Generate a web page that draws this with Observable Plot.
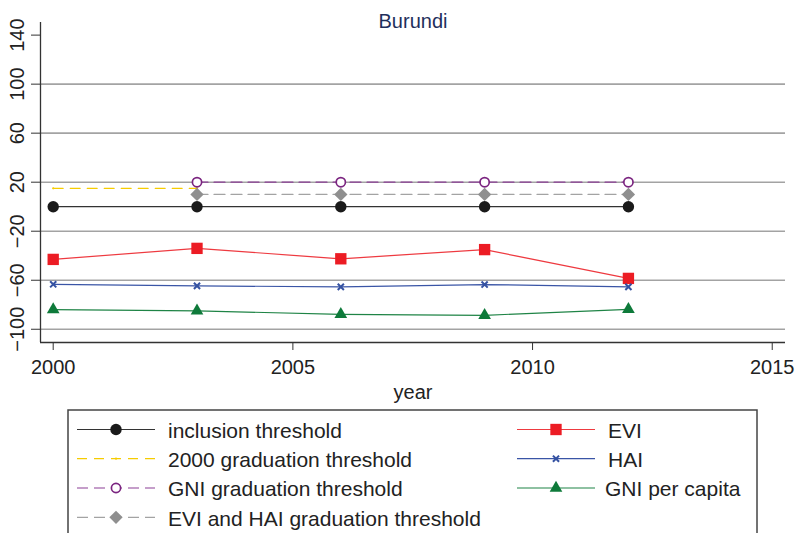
<!DOCTYPE html>
<html><head><meta charset="utf-8">
<script src="https://cdn.jsdelivr.net/npm/d3@7"></script>
<script src="https://cdn.jsdelivr.net/npm/@observablehq/plot@0.6"></script>
<style>
body{margin:0;background:#fff;}
#wrap{position:relative;width:795px;height:533px;overflow:hidden;font-family:"Liberation Sans",Arial,sans-serif;background:#fff;}
#wrap svg{display:block;}
#legend{position:absolute;left:0;top:400px;}
</style></head><body><div id="wrap"></div>
<script>
// ---- data ----
const title = "Burundi";
const xLabel = "year";
const years = [2000, 2003, 2006, 2009, 2012];
const thresholdYears = [2003, 2006, 2009, 2012];
const grad2000Years = [2000, 2003];
const inclusionThreshold = [0, 0, 0, 0, 0];
const grad2000Threshold = [15, 15];
const gniGradThreshold = [20, 20, 20, 20];
const eviHaiGradThreshold = [10, 10, 10, 10];
const evi = [-43, -34, -42.5, -35, -58.5];
const hai = [-63.3, -64.6, -65.4, -63.5, -65.4];
const gniPerCapita = [-83.9, -85, -87.8, -88.6, -83.7];
const yTicks = [-100, -60, -20, 20, 60, 100, 140];
const yGrid = [-100, -60, -20, 20, 60, 100];
const xTicks = [2000, 2005, 2010, 2015];
const legendLabels = ["inclusion threshold", "2000 graduation threshold", "GNI graduation threshold",
  "EVI and HAI graduation threshold", "EVI", "HAI", "GNI per capita"];

// ---- styles ----
const series = [
  {x: years, y: inclusionThreshold, stroke: "#333333", dash: null, symbol: "circle", r: 5.7, fill: "#1a1a1a", mstroke: "none", msw: 0},
  {x: grad2000Years, y: grad2000Threshold, stroke: "#f6cc00", dash: "10,7", symbol: "circle", r: 1.1, fill: "#f6cc00", mstroke: "none", msw: 0},
  {x: thresholdYears, y: gniGradThreshold, stroke: "#8b3f95", dash: "11,6", symbol: "circle", r: 4.6, fill: "white", mstroke: "#7b2580", msw: 1.7},
  {x: thresholdYears, y: eviHaiGradThreshold, stroke: "#a3a3a3", dash: "11,6", symbol: "diamond2", r: 6, fill: "#8f8f8f", mstroke: "none", msw: 0},
  {x: years, y: evi, stroke: "#ee3a40", dash: null, symbol: "square", r: 6.4, fill: "#ec1c24", mstroke: "none", msw: 0},
  {x: years, y: hai, stroke: "#3a55a6", dash: null, symbol: "times", r: 2.9, fill: "none", mstroke: "#3552a2", msw: 2},
  {x: years, y: gniPerCapita, stroke: "#1f8446", dash: null, symbol: "triangle", r: 4.7, fill: "#0e7a3a", mstroke: "none", msw: 0}
];
series.forEach((s, i) => { s.name = legendLabels[i]; s.rows = s.x.map((v, j) => ({year: v, value: s.y[j]})); });

const xDomain = [1999.735, 2015.277];
const yDomain = [-110.8, 150.3];
const fmt = d => d < 0 ? "\u2212" + Math.abs(d) : String(d);

const marks = [
  Plot.ruleY(yGrid, {stroke: "#a3a3a3", strokeWidth: 1.6}),
  Plot.ruleX([xDomain[0]], {stroke: "#333", strokeWidth: 1.3}),
  Plot.ruleY([yDomain[0]], {stroke: "#333", strokeWidth: 1.3}),
  Plot.axisY({ticks: yTicks, tickSize: 9, tickPadding: 7.5, tickRotate: -90, tickFormat: fmt, fontSize: 20, stroke: "#333", label: null}),
  Plot.axisX({ticks: xTicks, tickSize: 8, tickPadding: 9, tickFormat: d => String(d), fontSize: 20, stroke: "#333", label: null}),
  Plot.text([xLabel], {text: d => d, frameAnchor: "bottom", dy: 56, lineAnchor: "bottom", fontSize: 20, fill: "#222"}),
  Plot.text([title], {text: d => d, frameAnchor: "top", dy: 5, lineAnchor: "bottom", fontSize: 20, fill: "#1f2f5c"})
];
for (const s of series) {
  marks.push(Plot.line(s.rows, {x: "year", y: "value", stroke: s.stroke, strokeWidth: 1.2, strokeDasharray: s.dash}));
}
for (const s of series) {
  marks.push(Plot.dot(s.rows, {x: "year", y: "value", symbol: s.symbol, r: s.r, fill: s.fill, stroke: s.mstroke, strokeWidth: s.msw}));
}

const chart = Plot.plot({
  width: 795, height: 400,
  marginLeft: 40, marginRight: 10, marginTop: 22, marginBottom: 58,
  x: {type: "linear", domain: xDomain},
  y: {type: "linear", domain: yDomain},
  style: {fontFamily: '"Liberation Sans", Arial, sans-serif', fontSize: "20px", color: "#222", background: "white", overflow: "visible"},
  marks
});
const wrap = document.getElementById("wrap");
wrap.appendChild(chart);

// ---- legend ----
const symMap = {circle: d3.symbolCircle, diamond2: d3.symbolDiamond2, square: d3.symbolSquare, times: d3.symbolTimes, triangle: d3.symbolTriangle};
const lg = d3.select(wrap).append("svg").attr("id", "legend").attr("width", 795).attr("height", 133);
lg.append("rect").attr("x", 68).attr("y", 10).attr("width", 689).attr("height", 200)
  .attr("fill", "white").attr("stroke", "#444").attr("stroke-width", 1.5);
const rowY = [29.5, 58.7, 88, 117.3];
series.forEach((s, i) => {
  const col = i < 4 ? 0 : 1;
  const row = i < 4 ? i : i - 4;
  const x0 = col ? 517 : 77, x1 = col ? 595 : 155, xm = col ? 556 : 116;
  const tx = col ? (i === 6 ? 605 : 608) : 168;
  const y = rowY[row];
  const g = lg.append("g");
  g.append("line").attr("x1", x0).attr("x2", x1).attr("y1", y).attr("y2", y)
    .attr("stroke", s.stroke).attr("stroke-width", 1.2).attr("stroke-dasharray", s.dash);
  g.append("path").attr("transform", `translate(${xm},${y})`)
    .attr("d", d3.symbol(symMap[s.symbol], s.r * s.r * Math.PI)())
    .attr("fill", s.fill).attr("stroke", s.mstroke).attr("stroke-width", s.msw);
  g.append("text").attr("x", tx).attr("y", y + 8.3).text(s.name)
    .attr("font-size", 21).attr("fill", "#222").attr("font-family", '"Liberation Sans", Arial, sans-serif');
});
</script></body></html>
